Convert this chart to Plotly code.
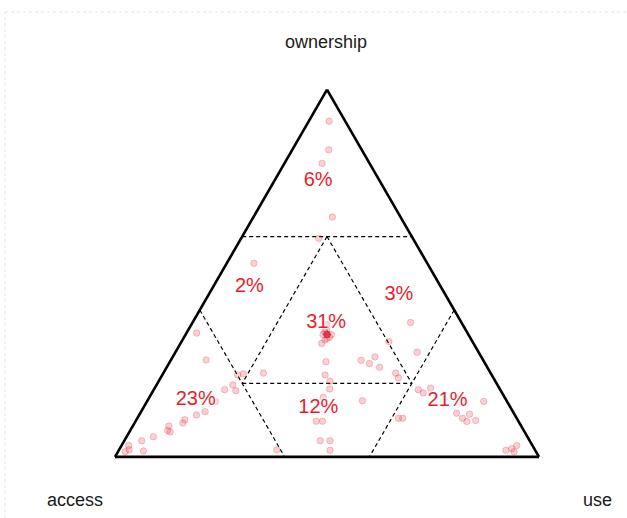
import plotly.graph_objects as go

# ---- data (ternary fractions) ----
ownership = [0.914, 0.836, 0.799, 0.653, 0.595,
             0.527,
             0.366, 0.285, 0.314,
             0.333, 0.333, 0.333, 0.333, 0.333, 0.333, 0.333, 0.333,
             0.345, 0.322, 0.333, 0.333, 0.340, 0.326, 0.350, 0.318,
             0.360, 0.309,
             0.259, 0.223, 0.206, 0.228, 0.226, 0.263, 0.254, 0.272, 0.244, 0.228, 0.215,
             0.185, 0.162, 0.153, 0.097, 0.097, 0.044, 0.044, 0.018, 0.019,
             0.337, 0.264, 0.223, 0.196, 0.180, 0.183, 0.151, 0.123, 0.114, 0.101, 0.092,
             0.084, 0.072, 0.068, 0.055, 0.044, 0.031, 0.019, 0.016, 0.014,
             0.183, 0.174, 0.187, 0.151, 0.119, 0.105, 0.116, 0.096, 0.099, 0.105, 0.105,
             0.018, 0.022, 0.031, 0.014]
access = [0.038, 0.078, 0.112, 0.161, 0.222,
          0.409,
          0.120, 0.145, 0.197,
          0.333, 0.333, 0.333, 0.333, 0.333, 0.333, 0.333, 0.333,
          0.328, 0.339, 0.343, 0.323, 0.335, 0.331, 0.330, 0.346,
          0.321, 0.358,
          0.373, 0.393, 0.390, 0.536, 0.584, 0.288, 0.273, 0.251, 0.254, 0.224, 0.224,
          0.401, 0.428, 0.340, 0.477, 0.462, 0.494, 0.471, 0.484, 0.609,
          0.639, 0.653, 0.599, 0.624, 0.625, 0.650, 0.688, 0.726, 0.751, 0.785, 0.794,
          0.831, 0.840, 0.836, 0.882, 0.915, 0.952, 0.957, 0.925, 0.969,
          0.193, 0.186, 0.162, 0.055, 0.135, 0.128, 0.106, 0.122, 0.100, 0.279, 0.269,
          0.069, 0.053, 0.037, 0.052]
use = [0.048, 0.086, 0.089, 0.186, 0.183,
       0.064,
       0.514, 0.570, 0.489,
       0.333, 0.333, 0.333, 0.333, 0.333, 0.333, 0.333, 0.333,
       0.327, 0.339, 0.324, 0.344, 0.325, 0.343, 0.320, 0.336,
       0.319, 0.333,
       0.368, 0.384, 0.404, 0.236, 0.190, 0.449, 0.473, 0.477, 0.502, 0.548, 0.561,
       0.414, 0.410, 0.507, 0.426, 0.441, 0.462, 0.485, 0.498, 0.372,
       0.024, 0.083, 0.178, 0.180, 0.195, 0.167, 0.161, 0.151, 0.135, 0.114, 0.114,
       0.085, 0.088, 0.096, 0.063, 0.041, 0.017, 0.024, 0.059, 0.017,
       0.624, 0.640, 0.651, 0.794, 0.746, 0.767, 0.778, 0.782, 0.801, 0.616, 0.626,
       0.913, 0.925, 0.932, 0.934]

# region share labels and where they sit (ownership, access, use)
region_labels = ["6%", "2%", "3%", "31%", "23%", "12%", "21%"]
label_own = [0.750, 0.462, 0.441, 0.364, 0.155, 0.133, 0.153]
label_acc = [0.146, 0.452, 0.110, 0.320, 0.732, 0.454, 0.139]
label_use = [0.104, 0.086, 0.449, 0.316, 0.113, 0.413, 0.708]

# region boundaries
OUTER = 0.6
INNER = 0.2

axis_titles = ["ownership", "access", "use"]

W, H = 627, 518
fig = go.Figure()

# dashed region boundaries
rest = 1 - OUTER
boundaries = [
    ([OUTER, OUTER], [rest, 0], [0, rest]),
    ([rest, 0], [OUTER, OUTER], [0, rest]),
    ([rest, 0], [0, rest], [OUTER, OUTER]),
    ([INNER, INNER], [OUTER, INNER], [INNER, OUTER]),
    ([OUTER, INNER], [INNER, INNER], [INNER, OUTER]),
    ([OUTER, INNER], [INNER, OUTER], [INNER, INNER]),
]
for a, b, c in boundaries:
    fig.add_trace(go.Scatterternary(
        a=a, b=b, c=c, mode="lines",
        line=dict(color="black", width=1.2, dash="4px,3px"),
        hoverinfo="skip", showlegend=False))

# points
fig.add_trace(go.Scatterternary(
    a=ownership, b=access, c=use, mode="markers",
    marker=dict(size=6.5, color="rgba(240,40,55,0.22)",
                line=dict(color="rgba(200,60,85,0.25)", width=1)),
    showlegend=False))

# percentage labels
fig.add_trace(go.Scatterternary(
    a=label_own, b=label_acc, c=label_use, mode="text",
    text=region_labels,
    textfont=dict(family="Liberation Sans, Arial, sans-serif", size=20,
                  color="rgb(232,28,44)",
                  shadow="1px 1px 2px white, -1px -1px 2px white, 1px -1px 2px white, -1px 1px 2px white"),
    hoverinfo="skip", showlegend=False))

axis_style = dict(showline=True, linecolor="black", linewidth=2.6,
                  showgrid=False, showticklabels=False, ticks="", title=dict(text=""))

fig.update_layout(
    width=W, height=H,
    margin=dict(l=0, r=0, t=0, b=0),
    paper_bgcolor="white",
    ternary=dict(
        domain=dict(x=[115 / W, 539 / W], y=[0.11, 0.835]),
        bgcolor="white",
        sum=1,
        aaxis=axis_style, baxis=axis_style, caxis=axis_style,
    ),
    font=dict(family="Liberation Sans, Arial, sans-serif"),
)

title_font = dict(family="Liberation Sans, Arial, sans-serif", size=18, color="#1a1a1a")
fig.add_annotation(text=axis_titles[0], x=326 / W, y=1 - 42 / H, xref="paper", yref="paper",
                   showarrow=False, font=title_font, xanchor="center", yanchor="middle")
fig.add_annotation(text=axis_titles[1], x=75 / W, y=1 - 500 / H, xref="paper", yref="paper",
                   showarrow=False, font=title_font, xanchor="center", yanchor="middle")
fig.add_annotation(text=axis_titles[2], x=597 / W, y=1 - 500 / H, xref="paper", yref="paper",
                   showarrow=False, font=title_font, xanchor="center", yanchor="middle")

# faint container border
fig.add_shape(type="line", xref="paper", yref="paper", x0=5 / W, x1=1.0, y0=1 - 12 / H, y1=1 - 12 / H,
              line=dict(color="#e4e4e4", width=1, dash="dot"))
fig.add_shape(type="line", xref="paper", yref="paper", x0=5 / W, x1=5 / W, y0=0, y1=1 - 12 / H,
              line=dict(color="#e4e4e4", width=1, dash="dot"))

fig.write_html("out.html", config={"displayModeBar": False},
               post_script="document.body.style.margin='0px';document.body.style.padding='0px';")
